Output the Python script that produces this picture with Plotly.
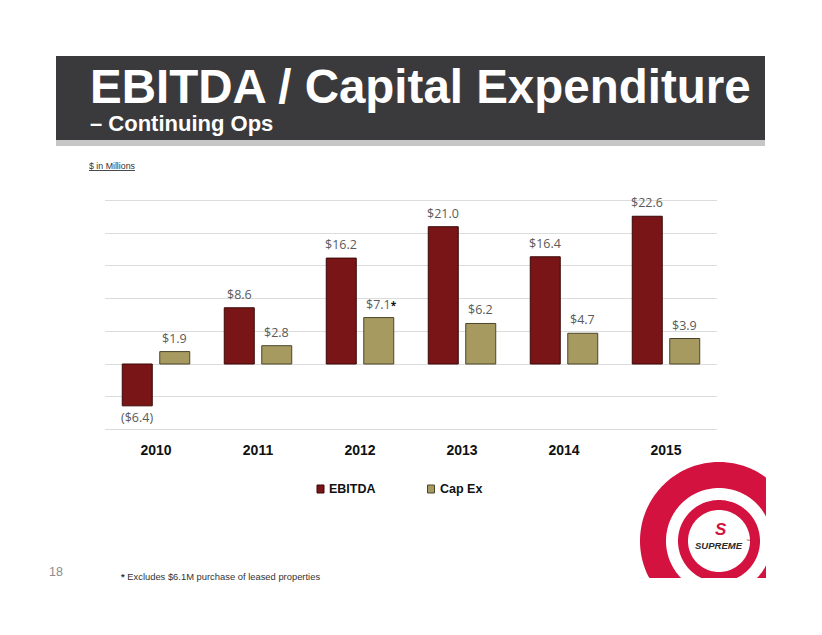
import numpy as np
import plotly.graph_objects as go

W, H = 822, 635

# ---------------- data ----------------
years = ["2010", "2011", "2012", "2013", "2014", "2015"]
ebitda = [-6.4, 8.6, 16.2, 21.0, 16.4, 22.6]
capex = [1.9, 2.8, 7.1, 6.2, 4.7, 3.9]
ebitda_labels = ["($6.4)", "$8.6", "$16.2", "$21.0", "$16.4", "$22.6"]
capex_labels = ["$1.9", "$2.8", "$7.1", "$6.2", "$4.7", "$3.9"]
capex_flagged = [False, False, True, False, False, False]
series_names = ["EBITDA", "Cap Ex"]
title_text = "EBITDA / Capital Expenditure"
subtitle_text = "– Continuing Ops"
units_text = "$ in Millions"
footnote_text = "Excludes $6.1M purchase of leased properties"
page_number = "18"
y_range = [-10.3, 25.3]

# ---------------- styles ----------------
RED = "#7a1517"
RED_LINE = "#3b0707"
KHAKI = "#a69a60"
KHAKI_LINE = "#4a452a"
LOGO_RED = "#d4123f"
SANS = "Liberation Sans, Arial, sans-serif"
LABEL_FONT = "Open Sans, Noto Sans, sans-serif"

PX_PER_UNIT = 6.537
ZERO_Y = 364.0


def px(x):
    return x / W


def py(y):
    return 1 - y / H


fig = go.Figure()
fig.add_bar(x=years, y=ebitda, name=series_names[0], showlegend=False,
            marker=dict(color=RED, line=dict(color=RED_LINE, width=1)))
fig.add_bar(x=years, y=capex, name=series_names[1], showlegend=False,
            marker=dict(color=KHAKI, line=dict(color=KHAKI_LINE, width=1)))

annotations = []
shapes = []

# value labels (x given as category index)
SLOT = 18.75
for i, (v, lab) in enumerate(zip(ebitda, ebitda_labels)):
    annotations.append(dict(
        x=i, y=v, xref="x", yref="y", text=lab, showarrow=False,
        xshift=-SLOT, yanchor="bottom" if v >= 0 else "top",
        yshift=3 if v >= 0 else -1,
        font=dict(family=LABEL_FONT, size=12.5, color="#5a5a5a")))
for i, (v, lab, flag) in enumerate(zip(capex, capex_labels, capex_flagged)):
    txt = lab + ("<span style='color:#111111;font-size:10px'><b>*</b></span>" if flag else "")
    annotations.append(dict(
        x=i, y=v, xref="x", yref="y", text=txt, showarrow=False,
        xshift=SLOT + (3 if flag else 0), yanchor="bottom", yshift=3,
        font=dict(family=LABEL_FONT, size=12.5, color="#5a5a5a")))

# title band
shapes.append(dict(type="rect", xref="paper", yref="paper", x0=px(56), x1=px(765),
                   y0=py(140), y1=py(56), fillcolor="#3a3a3c", line=dict(width=0), layer="below"))
shapes.append(dict(type="rect", xref="paper", yref="paper", x0=px(56), x1=px(765),
                   y0=py(146), y1=py(140), fillcolor="#c6c6c6", line=dict(width=0), layer="below"))
annotations.append(dict(x=px(88), y=py(86), xref="paper", yref="paper", xanchor="left",
                        yanchor="middle", showarrow=False, text=title_text,
                        font=dict(family=SANS, size=47.5, color="white", weight="bold")))
annotations.append(dict(x=px(88), y=py(123), xref="paper", yref="paper", xanchor="left",
                        yanchor="middle", showarrow=False, text=subtitle_text,
                        font=dict(family=SANS, size=22, color="white", weight="bold")))

# units
annotations.append(dict(x=px(87), y=py(166), xref="paper", yref="paper", xanchor="left",
                        yanchor="middle", showarrow=False, text="<u>" + units_text + "</u>",
                        font=dict(family=SANS, size=8.8, color="#333333")))

# legend (manual)
leg = [(series_names[0], RED, RED_LINE, 317), (series_names[1], KHAKI, KHAKI_LINE, 427.5)]
for name, col, lcol, x0 in leg:
    shapes.append(dict(type="rect", xref="paper", yref="paper", x0=px(x0), x1=px(x0 + 7),
                       y0=py(493), y1=py(485), fillcolor=col, line=dict(color=lcol, width=1)))
    annotations.append(dict(x=px(x0 + 10), y=py(489), xref="paper", yref="paper",
                            xanchor="left", yanchor="middle", showarrow=False, text=name,
                            font=dict(family=SANS, size=12.5, color="#111111", weight="bold")))

# footnote + page number
annotations.append(dict(x=px(119), y=py(576), xref="paper", yref="paper", xanchor="left",
                        yanchor="middle", showarrow=False,
                        text="<b>*</b> " + footnote_text,
                        font=dict(family=SANS, size=9.4, color="#333333")))
annotations.append(dict(x=px(47), y=py(572), xref="paper", yref="paper", xanchor="left",
                        yanchor="middle", showarrow=False, text=page_number,
                        font=dict(family=SANS, size=12.5, color="#8c8c8c")))

# logo
CX, CY = 719, 541
XMAX, YMAX = 766, 578


def ring_path(r_out, r_in, n=240):
    parts = []
    for r, direction in ((r_out, 1), (r_in, -1)):
        a = np.linspace(0, 2 * np.pi, n, endpoint=False) * direction
        xs = np.minimum(CX + r * np.cos(a), XMAX)
        ys = np.minimum(CY + r * np.sin(a), YMAX)
        pts = [f"{px(x):.5f},{py(y):.5f}" for x, y in zip(xs, ys)]
        parts.append("M" + " L".join(pts) + " Z")
    return " ".join(parts)


shapes.append(dict(type="path", xref="paper", yref="paper", path=ring_path(79, 53),
                   fillcolor=LOGO_RED, line=dict(width=0), fillrule="evenodd"))
shapes.append(dict(type="path", xref="paper", yref="paper", path=ring_path(41, 31),
                   fillcolor=LOGO_RED, line=dict(width=0), fillrule="evenodd"))
annotations.append(dict(x=px(721), y=py(529), xref="paper", yref="paper", showarrow=False,
                        xanchor="center", yanchor="middle", text="<b><i>S</i></b>",
                        font=dict(family=SANS, size=17, color=LOGO_RED)))
annotations.append(dict(x=px(719), y=py(545), xref="paper", yref="paper", showarrow=False,
                        xanchor="center", yanchor="middle", text="<b><i>SUPREME</i></b>",
                        font=dict(family=SANS, size=9.5, color="#2a2a2a")))
annotations.append(dict(x=px(744), y=py(540), xref="paper", yref="paper", showarrow=False,
                        xanchor="left", yanchor="middle", text="™",
                        font=dict(family=SANS, size=4, color="#2a2a2a")))

fig.update_layout(
    width=W, height=H,
    margin=dict(l=0, r=0, t=0, b=0),
    paper_bgcolor="white", plot_bgcolor="white",
    barmode="group", bargap=0.265, bargroupgap=0.2,
    showlegend=False,
    xaxis=dict(domain=[px(105), px(717)], type="category", range=[-0.5, 5.5],
               showgrid=False, showline=False, ticks="", ticklabelstandoff=9,
               automargin=False,
               tickfont=dict(family=SANS, size=14, color="#111111", weight="bold")),
    yaxis=dict(domain=[py(ZERO_Y - y_range[0] * PX_PER_UNIT), py(ZERO_Y - y_range[1] * PX_PER_UNIT)],
               range=y_range, dtick=5, tick0=0,
               showticklabels=False, ticks="", gridcolor="#dcdcdc", gridwidth=1,
               automargin=False,
               zeroline=True, zerolinecolor="#dcdcdc", zerolinewidth=1, showline=False),
    annotations=annotations,
    shapes=shapes,
)

fig.write_html("out.html")
